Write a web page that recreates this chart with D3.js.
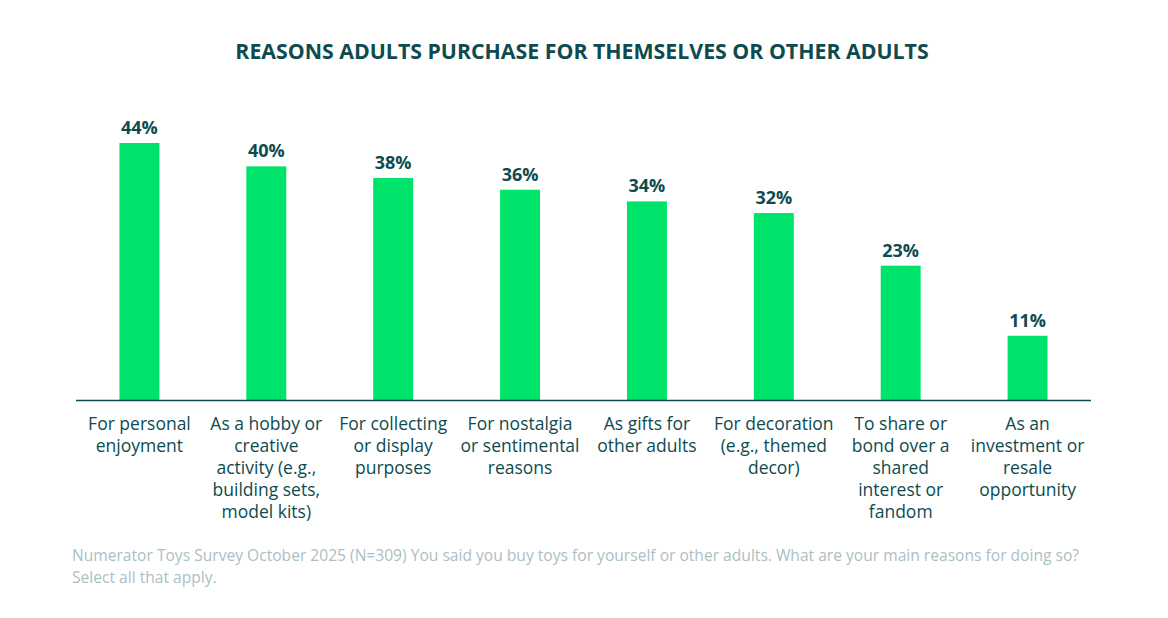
<!DOCTYPE html>
<html>
<head>
<meta charset="utf-8">
<script src="https://cdn.jsdelivr.net/npm/d3@7"></script>
<style>
  body { margin: 0; background: #fff; }
  svg { display: block; font-family: "Open Sans", sans-serif; }
</style>
</head>
<body>
<div id="chart"></div>
<script>
// Data
const categories = [
    "For personal enjoyment",
    "As a hobby or creative activity (e.g., building sets, model kits)",
    "For collecting or display purposes",
    "For nostalgia or sentimental reasons",
    "As gifts for other adults",
    "For decoration (e.g., themed decor)",
    "To share or bond over a shared interest or fandom",
    "As an investment or resale opportunity"
];
const values = [44, 40, 38, 36, 34, 32, 23, 11];

// wrapped label lines, as they appear on the chart
const labelLines = [
    ["For personal", "enjoyment"],
    ["As a hobby or", "creative", "activity (e.g.,", "building sets,", "model kits)"],
    ["For collecting", "or display", "purposes"],
    ["For nostalgia", "or sentimental", "reasons"],
    ["As gifts for", "other adults"],
    ["For decoration", "(e.g., themed", "decor)"],
    ["To share or", "bond over a", "shared", "interest or", "fandom"],
    ["As an", "investment or", "resale", "opportunity"]
];

const title = "REASONS ADULTS PURCHASE FOR THEMSELVES OR OTHER ADULTS";
const footnote = [
    "Numerator Toys Survey October 2025 (N=309) You said you buy toys for yourself or other adults. What are your main reasons for doing so?",
    "Select all that apply."
];

const width = 1168, height = 618;
const dark = "#0e4b4f", green = "#00e36a", grey = "#aabfc3";

const svg = d3.select("#chart")
    .append("svg")
    .attr("width", width)
    .attr("height", height);

// Scales
const x = d3.scaleBand()
    .domain(categories)
    .range([76, 1091])
    .paddingInner(0.685)
    .paddingOuter(0.3425);

const y = d3.scaleLinear()
    .domain([0, 44])
    .range([400, 143]);

// Title
svg.append("text")
    .attr("x", 582)
    .attr("y", 59)
    .attr("text-anchor", "middle")
    .attr("fill", dark)
    .style("font-size", "21.3px")
    .style("font-weight", 700)
    .text(title);

// Bars
svg.selectAll(".bar")
    .data(values)
    .enter()
    .append("rect")
    .attr("class", "bar")
    .attr("x", (d, i) => x(categories[i]))
    .attr("y", d => y(d))
    .attr("width", x.bandwidth())
    .attr("height", d => y(0) - y(d))
    .attr("fill", green);

// Value labels
svg.selectAll(".val")
    .data(values)
    .enter()
    .append("text")
    .attr("class", "val")
    .attr("x", (d, i) => x(categories[i]) + x.bandwidth() / 2)
    .attr("y", d => y(d) - 9)
    .attr("text-anchor", "middle")
    .attr("fill", dark)
    .style("font-size", "18px")
    .style("font-weight", 700)
    .text(d => d + "%");

// Baseline
svg.append("line")
    .attr("x1", 76)
    .attr("x2", 1091)
    .attr("y1", y(0) + 0.5)
    .attr("y2", y(0) + 0.5)
    .attr("stroke", dark)
    .attr("stroke-width", 1.5);

// Category labels
const lab = svg.selectAll(".cat")
    .data(categories)
    .enter()
    .append("text")
    .attr("class", "cat")
    .attr("text-anchor", "middle")
    .attr("fill", dark)
    .style("font-size", "17.5px");

lab.each(function(d, i) {
    const cx = x(d) + x.bandwidth() / 2;
    d3.select(this).selectAll("tspan")
        .data(labelLines[i])
        .enter()
        .append("tspan")
        .attr("x", cx)
        .attr("y", (t, j) => 430 + j * 22)
        .text(t => t);
});

// Footnote
svg.selectAll(".note")
    .data(footnote)
    .enter()
    .append("text")
    .attr("class", "note")
    .attr("x", 72)
    .attr("y", (d, i) => 561 + i * 21.5)
    .attr("fill", grey)
    .style("font-size", "15.6px")
    .text(d => d);
</script>
</body>
</html>
